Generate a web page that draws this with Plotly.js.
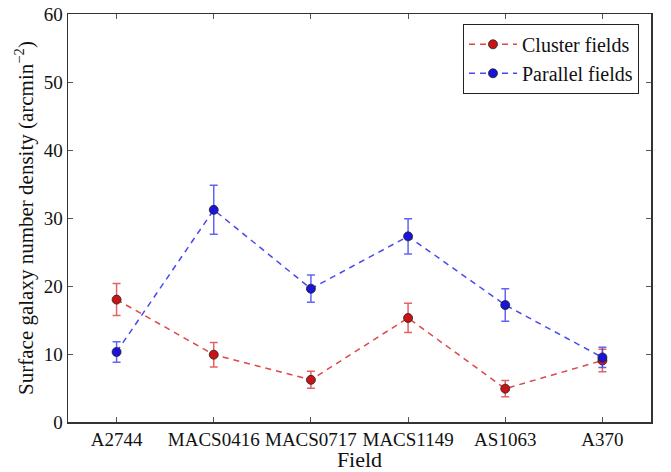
<!DOCTYPE html>
<html>
<head>
<meta charset="utf-8">
<script src="https://cdn.plot.ly/plotly-3.0.1.min.js"></script>
<style>
  html, body { margin: 0; padding: 0; background: #fff; }
  #chart { width: 671px; height: 472px; }
</style>
</head>
<body>
<div id="chart"></div>
<script>
// Fields observed
const fields = ['A2744', 'MACS0416', 'MACS0717', 'MACS1149', 'AS1063', 'A370'];

// Surface galaxy number density (arcmin^-2) and 1-sigma errors
const clusterDensity = [18.0, 9.9, 6.2, 15.3, 4.9, 9.05];
const clusterError   = [2.35, 1.8, 1.25, 2.15, 1.2, 1.65];
const parallelDensity = [10.3, 31.2, 19.6, 27.3, 17.2, 9.5];
const parallelError   = [1.5, 3.6, 2.0, 2.6, 2.4, 1.5];

const yTicks = [0, 10, 20, 30, 40, 50, 60];

const serif = '"Liberation Serif", "DejaVu Serif", serif';

function series(name, y, err, fill, line, bar) {
  return {
    type: 'scatter',
    mode: 'lines+markers',
    name: name,
    x: fields.map((_, i) => i),
    y: y,
    error_y: { type: 'data', array: err, visible: true, color: bar, thickness: 1.5, width: 4 },
    line: { color: line, width: 1.5, dash: '6px,5px' },
    marker: { color: fill, size: 9, line: { color: '#222', width: 0.8 } }
  };
}

const traces = [
  series('Cluster fields', clusterDensity, clusterError, '#c81414', 'rgba(215,40,40,0.85)', 'rgba(220,60,60,0.8)'),
  series('Parallel fields', parallelDensity, parallelError, '#1a14d8', 'rgba(40,40,240,0.85)', 'rgba(60,60,245,0.8)')
];

const layout = {
  width: 671,
  height: 472,
  margin: { l: 68, r: 20, t: 14, b: 50 },
  paper_bgcolor: '#fff',
  plot_bgcolor: '#fff',
  font: { family: serif, color: '#111', size: 19 },
  showlegend: true,
  legend: {
    x: 0.6775, y: 0.976, xanchor: 'left', yanchor: 'top',
    bordercolor: '#222', borderwidth: 1, bgcolor: '#fff',
    font: { family: serif, size: 20, color: '#111' },
    tracegroupgap: 2,
    itemwidth: 48
  },
  xaxis: {
    range: [-0.5, 5.5],
    tickmode: 'array',
    tickvals: fields.map((_, i) => i),
    ticktext: fields,
    ticks: 'inside', ticklen: 5, tickcolor: '#555', tickwidth: 1,
    showline: true, linecolor: '#333', linewidth: 1.5, mirror: 'allticks',
    showgrid: false, zeroline: false,
    tickfont: { family: serif, size: 19, color: '#111' },
    title: { text: 'Field', font: { family: serif, size: 22, color: '#111' }, standoff: 2 }
  },
  yaxis: {
    range: [0, 60],
    tickmode: 'array',
    tickvals: yTicks,
    ticktext: yTicks.map(String),
    ticks: 'inside', ticklen: 5, tickcolor: '#555', tickwidth: 1,
    showline: true, linecolor: '#333', linewidth: 1.5, mirror: 'allticks',
    showgrid: false, zeroline: false,
    tickfont: { family: serif, size: 19, color: '#111' },
    title: { text: 'Surface galaxy number density (arcmin<sup>−2</sup>)', font: { family: serif, size: 21, color: '#111' }, standoff: 4 }
  }
};

Plotly.newPlot('chart', traces, layout, { displayModeBar: false, staticPlot: true });
</script>
</body>
</html>
